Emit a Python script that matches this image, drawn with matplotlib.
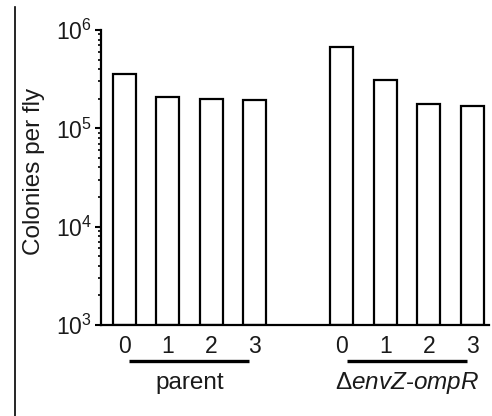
import matplotlib
matplotlib.use("Agg")
import matplotlib.pyplot as plt
from matplotlib.lines import Line2D
import matplotlib.transforms as mtransforms
from matplotlib.ticker import LogLocator, NullFormatter

plt.rcParams['font.family'] = ['Liberation Sans', 'DejaVu Sans']
plt.rcParams['mathtext.fontset'] = 'custom'
plt.rcParams['mathtext.rm'] = 'Liberation Sans'
plt.rcParams['mathtext.it'] = 'Liberation Sans:italic'
plt.rcParams['text.color'] = '#1a1a1a'
plt.rcParams['xtick.labelcolor'] = '#1a1a1a'
plt.rcParams['ytick.labelcolor'] = '#1a1a1a'

# Data
groups = ["parent", r"$\Delta\mathit{envZ}$-$\mathit{ompR}$"]
timepoints = ["0", "1", "2", "3"]
parent_vals = [3.6e5, 2.05e5, 1.99e5, 1.94e5]
mutant_vals = [6.7e5, 3.1e5, 1.77e5, 1.69e5]

fig = plt.figure(figsize=(4.92, 4.16), dpi=100)
ax = fig.add_axes([0.2053, 0.2188, 0.7887, 0.7091])

pos1 = [0, 1, 2, 3]
pos2 = [5, 6, 7, 8]
fs = 16.5
ax.bar(pos1, parent_vals, width=0.53, bottom=1e3, color='white', edgecolor='black', linewidth=1.6)
ax.bar(pos2, mutant_vals, width=0.53, bottom=1e3, color='white', edgecolor='black', linewidth=1.6)

ax.set_yscale('log')
ax.set_ylim(1e3, 1e6)
ax.set_xlim(-0.53, 8.38)
ax.yaxis.set_major_locator(LogLocator(base=10, numticks=10))
ax.yaxis.set_minor_locator(LogLocator(base=10, subs=range(2, 10), numticks=10))
ax.yaxis.set_minor_formatter(NullFormatter())

ax.set_xticks(pos1 + pos2)
ax.set_xticklabels(timepoints + timepoints)

for s in ['top', 'right']:
    ax.spines[s].set_visible(False)
for s in ['left', 'bottom']:
    ax.spines[s].set_linewidth(1.6)

ax.tick_params(axis='x', length=0, pad=7, labelsize=fs)
ax.tick_params(axis='y', which='major', length=4.5, width=1.5, pad=2, labelsize=fs)
ax.tick_params(axis='y', which='minor', length=2.5, width=1.2)

trans = mtransforms.blended_transform_factory(ax.transData, ax.transAxes)
for start, label in zip([0, 5], groups):
    ax.plot([start + 0.12, start + 2.87], [-0.122, -0.122], color='black', lw=2.4,
            transform=trans, clip_on=False, solid_capstyle='butt')
    ax.text(start + 1.5, -0.195, label, transform=trans, ha='center', va='center', fontsize=17.5)

fig.text(34 / 492, 0.589, "Colonies per fly", rotation=90, ha='center', va='center', fontsize=17.5)

# left frame line
fig.add_artist(Line2D([15 / 492, 15 / 492], [0, 1 - 7 / 416], color='black', lw=1.2,
                      transform=fig.transFigure))

fig.savefig("out.png", dpi=100)
